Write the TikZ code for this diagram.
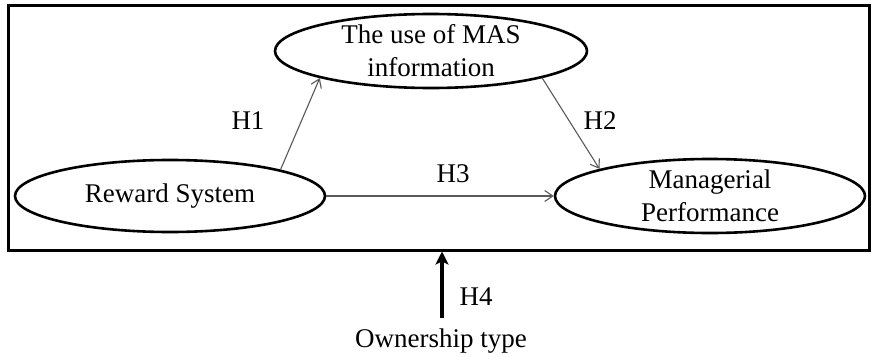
\documentclass[tikz,border=0pt]{standalone}
\usepackage{fontspec}
\setmainfont{Liberation Serif}
\usepackage{tikz}
\usetikzlibrary{shapes.geometric,arrows.meta}

\begin{document}
\begin{tikzpicture}[x=1pt,y=-1pt,
	oval/.style={ellipse,draw,line width=2.6pt,minimum width=310pt,minimum height=72pt,inner sep=0pt,align=center,font=\fontsize{27}{33}\selectfont},
	link/.style={draw=black!65,line width=1.1pt,-{Straight Barb[length=8pt,width=11pt]}},
	lbl/.style={font=\fontsize{27}{33}\selectfont}]
						\useasboundingbox (0,0) rectangle (872,356);
						\draw[line width=3pt] (8,5) rectangle (869,250);
						\node[oval,minimum width=312pt,minimum height=74pt] (mas) at (431,51) {The use of MAS\\information};
						\node[oval] (rs) at (170,196) {Reward System};
						\node[oval,minimum height=74pt] (mp) at (710,196) {Managerial\\Performance};
						\draw[link] (rs.north east) -- (mas.south west);
						\draw[link] (mas.south east) -- (mp.north west);
						\draw[link] (rs.east) -- (mp.west);
						\node[lbl] (h1) at (248,121) {H1}; \node[lbl] (h2) at (600,121) {H2};
						\node[lbl] (h3) at (453,174) {H3}; \node[lbl] (h4) at (476,297) {H4};
						\node[lbl] (own) at (441,341) {Ownership type};
						\coordinate (boxb) at (442,251.5);
						\draw[line width=3.5pt,-{Stealth[length=13pt,width=13pt,inset=3pt]}] (own.north -| boxb) ++(0,-7) -- (boxb);
					\end{tikzpicture}
\end{document}
